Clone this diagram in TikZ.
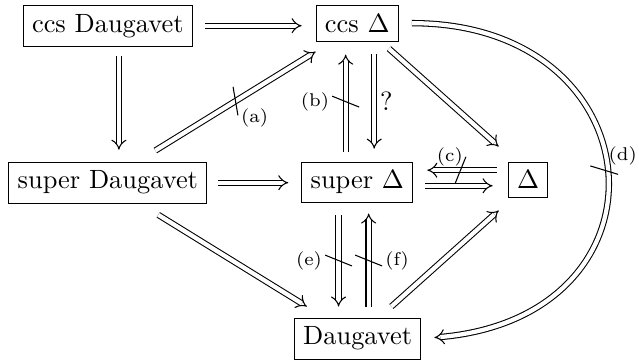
\documentclass[tikz,border=0pt]{standalone}
\usetikzlibrary{arrows.meta}

\begin{document}
\begin{tikzpicture}[x=1mm,y=1mm,
  prop/.style={draw,anchor=base},
  impl/.style={double,double distance=1.6pt,-{Implies}},
  cut/.style={sloped,allow upside down,rotate=-22,draw,shape=rectangle,inner sep=0pt,outer sep=0pt,minimum width=0pt,minimum height=11pt},
  lbl/.style={font=\scriptsize,inner sep=1pt}]
  \useasboundingbox (0,0) rectangle (85.04,-48.04);
  \node[prop] (ccsdau) at (14.35,-4.26) {ccs Daugavet};
  \node[prop] (ccsdel) at (47.55,-4.26) {ccs $\Delta$};
  \node[prop] (supdau) at (14.35,-25.15) {super Daugavet};
  \node[prop] (supdel) at (47.55,-25.15) {super $\Delta$};
  \node[prop] (del) at (70.27,-25.15) {$\Delta$};
  \node[prop] (daug) at (47.6,-45.91) {Daugavet};
  % top row and left column
  \draw[impl,shorten <=4.5pt,shorten >=5.3pt] (ccsdau.east) -- (ccsdau.east -| ccsdel.west);
  \draw[impl,shorten <=3.4pt,shorten >=4.5pt] ([xshift=4.2pt]ccsdau.south) -- ([xshift=4.2pt]ccsdau.south |- supdau.north);
  \draw[impl] ([xshift=18pt,yshift=4.2pt]supdau.north) -- node[cut,pos=.5] (ca) {} ([yshift=-3.8pt]ccsdel.south west);
  \draw[impl,shorten <=4.2pt,shorten >=4.9pt] (supdau.east) -- (supdau.east -| supdel.west);
  % between ccs Delta and super Delta
  \draw[impl,shorten <=3.8pt,shorten >=4.9pt] ([xshift=-4.4pt]supdel.north) -- node[cut,pos=.5] (cb) {} ([xshift=-4.4pt]supdel.north |- ccsdel.south);
  \draw[impl,shorten <=4.5pt,shorten >=4.9pt] ([xshift=6.4pt]ccsdel.south) -- node[right,pos=.5,inner sep=2pt] (qm) {?} ([xshift=6.4pt]ccsdel.south |- supdel.north);
  \draw[impl] ([xshift=-3.8pt,yshift=-2.65pt]ccsdel.south east) -- ([xshift=-3.4pt,yshift=5.7pt]del.north west);
  \draw[impl,shorten <=4.9pt,shorten >=4.9pt] (ccsdel.east) to[out=0,in=5,looseness=2.1] node[cut,pos=.495] (cd) {} (daug.east);
  % super Delta and Delta
  \draw[impl,shorten <=4.2pt,shorten >=5.3pt] ([yshift=3.7pt]del.west) -- node[cut,pos=.5] (cc) {} ([yshift=3.7pt]del.west -| supdel.east);
  \draw[impl,shorten <=4.5pt,shorten >=5.7pt] ([yshift=-2.2pt]del.west -| supdel.east) -- ([yshift=-2.2pt]del.west);
  % bottom
  \draw[impl,shorten <=4.5pt,shorten >=4.2pt] ([xshift=-7.1pt]supdel.south) -- node[cut,pos=.5] (ce) {} ([xshift=-7.1pt]supdel.south |- daug.north);
  \draw[impl,shorten <=4.2pt,shorten >=3.8pt] ([xshift=4.3pt]supdel.south |- daug.north) -- node[cut,pos=.5] (cf) {} ([xshift=4.3pt]supdel.south);
  \draw[impl] ([xshift=19.1pt,yshift=-4.2pt]supdau.south) -- ([xshift=4.9pt,yshift=4.2pt]daug.north west);
  \draw[impl] ([xshift=-11.4pt,yshift=4.2pt]daug.north east) -- ([xshift=-3.4pt,yshift=-4.6pt]del.south west);
  % labels of the cuts
  \node[lbl,anchor=west] (la) at ([yshift=-1pt]ca.south) {(a)};
  \node[lbl,anchor=east] (lb) at ([yshift=-2pt]cb.north) {(b)};
  \node[lbl,anchor=east] (lc) at (cc.south) {(c)};
  \node[lbl,anchor=south west] (ld) at ([xshift=-4.8pt,yshift=2.4pt]cd.north) {(d)};
  \node[lbl,anchor=east] (le) at ([yshift=-2pt]ce.south) {(e)};
  \node[lbl,anchor=west] (lf) at ([yshift=2pt]cf.south) {(f)};
\end{tikzpicture}
\end{document}
